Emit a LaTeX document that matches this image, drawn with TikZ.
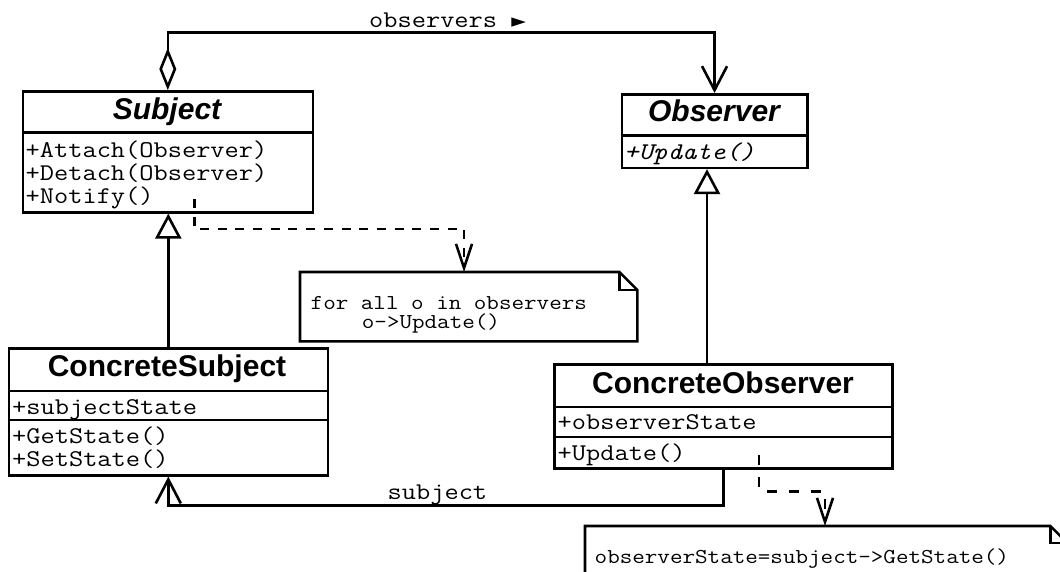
\documentclass[tikz,border=0pt]{standalone}
\usepackage{fontspec}
\usetikzlibrary{arrows.meta,calc}
\newfontfamily\umlmono{Latin Modern Mono}[FakeStretch=1.15]
\newfontfamily\umlsans{Liberation Sans}
\newfontfamily\umlsym{DejaVu Sans}
\tikzset{
  thick line/.style={line width=2.6pt},
  classbox/.style={draw, line width=2.6pt, inner sep=0pt, anchor=north west},
  notebox/.style={inner sep=0pt, anchor=north west},
  classname/.style={font=\umlsans\bfseries\fontsize{30}{30}\selectfont, inner sep=0pt, anchor=base},
  member/.style={font=\umlmono\fontsize{24}{24}\selectfont, inner sep=0pt, anchor=base west},
  notetext/.style={font=\umlmono\fontsize{21.2}{21.2}\selectfont, inner sep=0pt, anchor=base west},
  assoc/.style={line width=2.6pt, -{Straight Barb[length=24pt,width=25pt]}},
  aggregation/.style={line width=2.6pt, {Diamond[open,length=42pt,width=17pt]}-{Straight Barb[length=24pt,width=25pt]}},
  inherit/.style={line width=2.6pt, -{Triangle[open,length=25pt,width=26pt]}},
  depend/.style={line width=2.6pt, -{Straight Barb[length=24pt,width=16pt]}},
}
\begin{document}
\begin{tikzpicture}[x=1pt,y=-1pt]
\path[use as bounding box] (0,0) rectangle (1060,571);
\clip (0,0) rectangle (1060,571);

% ---- Subject (abstract) ----
\node[classbox, minimum width=290pt, minimum height=121pt] (subject) at (21.5,90) {};
\draw[thick line] (subject.west |- 0,132.5) -- (subject.east |- 0,132.5);
\node[classname] (subjectName) at (167,119) {\itshape Subject};
\node[member] (subjectM1) at (25.5,157.5) {+Attach(Observer)};
\node[member] (subjectM2) at (25.5,180.5) {+Detach(Observer)};
\node[member] (subjectM3) at (25.5,203.5) {+Notify()};

% ---- Observer (abstract) ----
\node[classbox, minimum width=185.5pt, minimum height=73.5pt] (observer) at (620.5,93) {};
\draw[thick line] (observer.west |- 0,135.5) -- (observer.east |- 0,135.5);
\node[classname] (observerName) at (714,121.5) {\itshape Observer};
\node[member] (observerM1) at (624,159) {\itshape +Update()};

% ---- ConcreteSubject ----
\node[classbox, minimum width=319pt, minimum height=127pt] (csubject) at (7.5,347) {};
\draw[thick line] (csubject.west |- 0,391) -- (csubject.east |- 0,391);
\draw[thick line] (csubject.west |- 0,420) -- (csubject.east |- 0,420);
\node[classname] (csubjectName) at (167,376.5) {ConcreteSubject};
\node[member] (csubjectA1) at (12,414) {+subjectState};
\node[member] (csubjectM1) at (12,443) {+GetState()};
\node[member] (csubjectM2) at (12,466.5) {+SetState()};

% ---- ConcreteObserver ----
\node[classbox, minimum width=338pt, minimum height=104pt] (cobserver) at (553,363) {};
\draw[thick line] (cobserver.west |- 0,407) -- (cobserver.east |- 0,407);
\draw[thick line] (cobserver.west |- 0,437) -- (cobserver.east |- 0,437);
\node[classname] (cobserverName) at (723,393) {ConcreteObserver};
\node[member] (cobserverA1) at (557.5,429) {+observerState};
\node[member] (cobserverM1) at (557.5,460) {+Update()};

% ---- Notes ----
\node[notebox, minimum width=337pt, minimum height=69pt] (note1) at (300,272) {};
\draw[thick line] (note1.north west) -- ($(note1.north east)+(-18,0)$)
  -- ($(note1.north east)+(0,18)$) -- (note1.south east) -- (note1.south west) -- cycle;
\draw[thick line] ($(note1.north east)+(-18,0)$) -- ++(0,18) -- ++(18,0);
\node[notetext] (note1a) at (310.5,309) {for all o in observers};
\node[notetext] (note1b) at (361.7,328) {o->Update()};

\node[notebox, minimum width=482pt, minimum height=60pt] (note2) at (585,526) {};
\draw[thick line] (note2.north west) -- ($(note2.north east)+(-17,0)$)
  -- ($(note2.north east)+(0,17)$) -- (note2.south east) -- (note2.south west) -- cycle;
\draw[thick line] ($(note2.north east)+(-17,0)$) -- ++(0,17) -- ++(17,0);
\node[notetext] (note2a) at (594.5,563) {observerState=subject->GetState()};

% ---- observers association with aggregation ----
\coordinate (obsBend) at (400,32.5);
\draw[aggregation] (subject.north) |- (obsBend) -| (observer.north);
\node[member] (obsLabel) at (369,27) {observers {\umlsym\fontsize{19}{19}\selectfont ►}};

% ---- generalizations ----
\draw[inherit] (csubject.north) -- (csubject.north |- subject.south);
\coordinate (cobsTop) at ($(cobserver.north west)+(154,0)$);
\draw[inherit] (cobsTop) -- (cobsTop |- observer.south);

% ---- subject association ----
\coordinate (subjBend) at (400,505.5);
\draw[assoc] (cobserver.south) |- (subjBend) -| (csubject.south);
\node[member] (subjLabel) at (387.5,499) {subject};

% ---- note dependencies ----
\coordinate (notifyEnd) at (194.5,199);
\coordinate (dep1) at (464,229);
\draw[depend, dash pattern=on 9pt off 8.7pt] (notifyEnd) |- (dep1) -- (dep1 |- note1.north);
\coordinate (updateEnd) at (759,455);
\coordinate (dep2) at (825,491.5);
\draw[depend, dash pattern=on 10pt off 12pt] (updateEnd) |- (dep2) -- (dep2 |- note2.north);
\end{tikzpicture}
\end{document}
